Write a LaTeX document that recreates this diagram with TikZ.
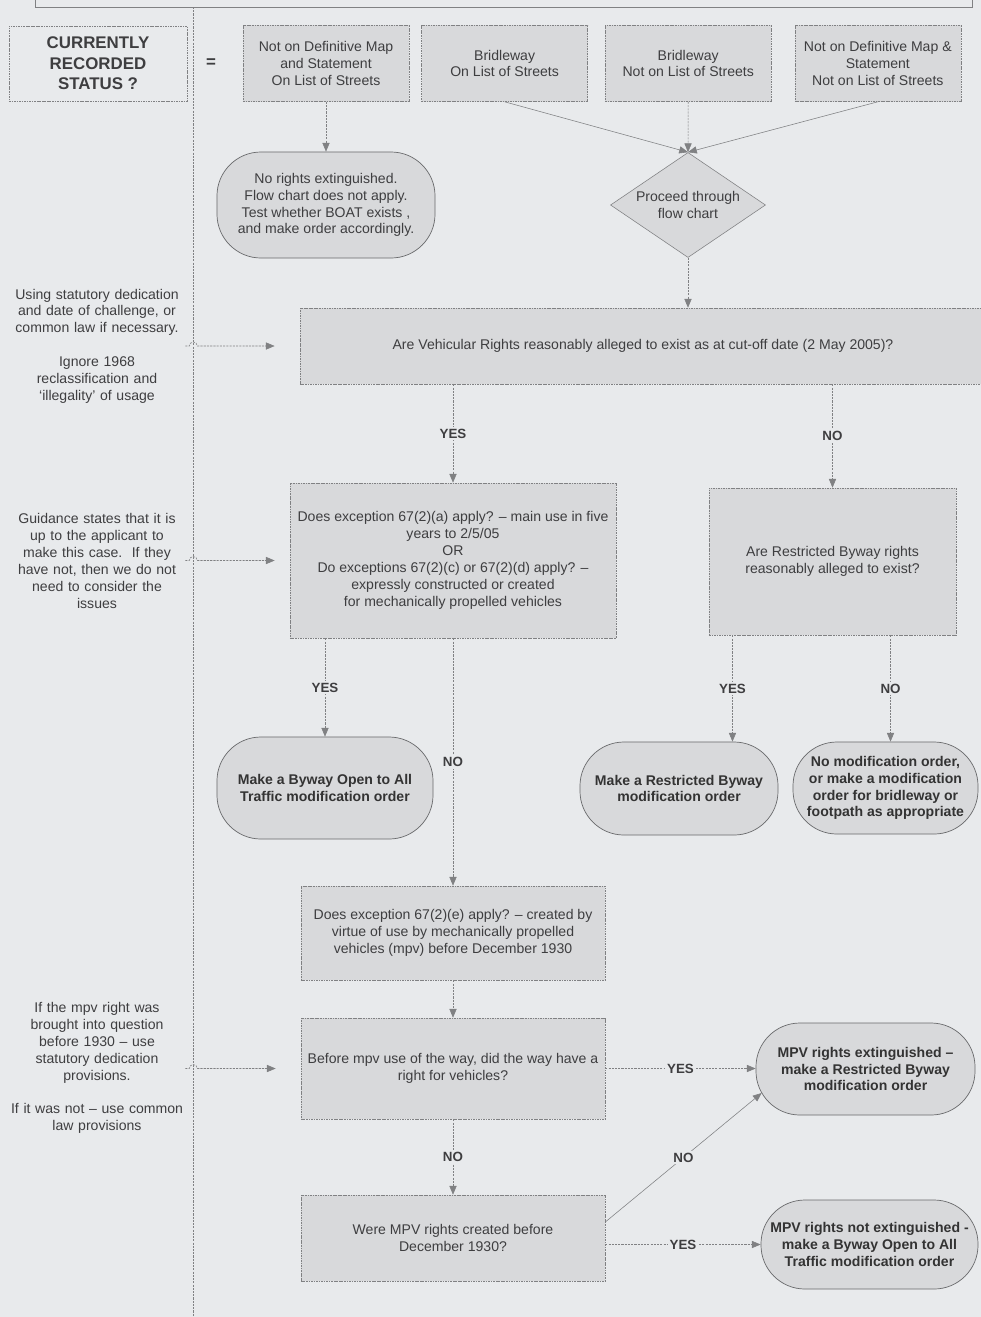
\documentclass[tikz,border=0pt]{standalone}
\usepackage{fontspec}
\setmainfont{Liberation Sans}
\usetikzlibrary{arrows.meta,positioning,shapes.geometric}
\definecolor{pagegray}{RGB}{232,234,236}
\definecolor{boxgray}{RGB}{216,217,219}
\definecolor{linegray}{RGB}{128,129,131}
\definecolor{termline}{RGB}{105,106,108}
\definecolor{textgray}{RGB}{62,62,64}

\tikzset{
  qbox/.style={rectangle, draw=linegray, fill=boxgray, dash pattern=on 1.2pt off 0.6pt, line width=0.4pt, align=center},
  topbox/.style={qbox, minimum width=4.15cm, minimum height=1.9cm},
  statbox/.style={rectangle, draw=linegray, dash pattern=on 1.2pt off 0.6pt, line width=0.4pt, align=center, minimum width=4.45cm, minimum height=1.875cm, font=\fontsize{12}{14.5}\selectfont\bfseries},
  endbox/.style={rectangle, rounded corners=1.1cm, draw=termline, fill=boxgray, line width=0.5pt, align=center},
  orderbox/.style={endbox, font=\fontsize{10}{12}\selectfont\bfseries, text=black!80},
  askbox/.style={diamond, aspect=1.5, inner sep=0pt, draw=linegray, fill=boxgray, line width=0.4pt, align=center, minimum width=3.875cm, minimum height=2.625cm},
  note/.style={text width=4.4cm, align=center, inner sep=0pt},
  flow/.style={draw=linegray, line width=0.4pt, dash pattern=on 1.5pt off 0.8pt, -{Triangle[length=2.2mm,width=1.8mm]}},
  flowline/.style={draw=linegray, line width=0.4pt, -{Triangle[length=2.2mm,width=1.8mm]}},
  lbl/.style={fill=pagegray, inner sep=1.5pt, font=\fontsize{9.5}{11}\selectfont\bfseries}
}

\begin{document}
\begin{tikzpicture}[x=0.025cm, y=-0.025cm, font=\fontsize{10}{12}\selectfont, text=textgray]
\useasboundingbox (0,0) rectangle (981,1317);
\fill[pagegray] (0,0) rectangle (981,1317);
\draw[linegray, line width=0.4pt] (35,0) -- (35,7) -- (972,7) -- (972,0);
\draw[linegray, line width=0.4pt, dash pattern=on 1.5pt off 0.8pt] (193,7) -- (193,1317);

\node[statbox] (status) at (98,63.5) {CURRENTLY\\RECORDED\\STATUS ?};
\node[font=\fontsize{12}{14}\selectfont\bfseries] (eq) at (211,63) {=};
\node[topbox] (s1) at (326,63.5) {Not on Definitive Map\\and Statement\\On List of Streets};
\node[topbox, right=0.3cm of s1] (s2) {Bridleway\\On List of Streets};
\node[topbox, right=0.425cm of s2] (s3) {Bridleway\\Not on List of Streets};
\node[topbox, right=0.575cm of s3] (s4) {Not on Definitive Map \&\\Statement\\Not on List of Streets};

\node[endbox, minimum width=5.45cm, minimum height=2.65cm] (none) at (326,205) {No rights extinguished.\\Flow chart does not apply.\\Test whether BOAT exists ,\\and make order accordingly.};
\node[askbox] (proceed) at (688,205) {Proceed through\\flow chart};

\node[qbox, minimum width=17.15cm, minimum height=1.9cm] (vr) at (643,346) {Are Vehicular Rights reasonably alleged to exist as at cut-off date (2 May 2005)?};
\node[qbox, minimum width=8.15cm, minimum height=3.875cm] (ex1) at (453,560.5) {Does exception 67(2)(a) apply? – main use in five\\years to 2/5/05\\OR\\Do exceptions 67(2)(c) or 67(2)(d) apply? –\\expressly constructed or created\\for mechanically propelled vehicles};
\node[qbox, minimum width=6.175cm, minimum height=3.675cm] (rb) at (832.5,561.5) {Are Restricted Byway rights\\reasonably alleged to exist?};

\node[orderbox, minimum width=5.4cm, minimum height=2.55cm] (boat) at (325,788) {Make a Byway Open to All\\Traffic modification order};
\node[orderbox, minimum width=4.95cm, minimum height=2.325cm] (rbo) at (679,788.5) {Make a Restricted Byway\\modification order};
\node[orderbox, minimum width=4.625cm, minimum height=2.3cm] (nmo) at (885.5,788) {No modification order,\\or make a modification\\order for bridleway or\\footpath as appropriate};

\node[qbox, minimum width=7.6cm, minimum height=2.35cm] (ex2) at (453,933) {Does exception 67(2)(e) apply? – created by\\virtue of use by mechanically propelled\\vehicles (mpv) before December 1930};
\node[qbox, minimum width=7.6cm, minimum height=2.525cm] (bv) at (453,1068.5) {Before mpv use of the way, did the way have a\\right for vehicles?};
\node[qbox, minimum width=7.6cm, minimum height=2.15cm] (mpv) at (453,1238) {Were MPV rights created before\\December 1930?};
\node[orderbox, minimum width=5.475cm, minimum height=2.3cm] (ext) at (865.5,1069) {MPV rights extinguished –\\make a Restricted Byway\\modification order};
\node[orderbox, minimum width=5.425cm, minimum height=2.225cm] (notext) at (869.5,1244.5) {MPV rights not extinguished -\\make a Byway Open to All\\Traffic modification order};

\node[note] (n1) at (97,346) {Using statutory dedication\\and date of challenge, or\\common law if necessary.\\[12pt]Ignore 1968\\reclassification and\\‘illegality’ of usage};
\node[note] (n2) at (97,561) {Guidance states that it is\\up to the applicant to\\make this case.\ \ If they\\have not, then we do not\\need to consider the\\issues};
\node[note] (n3) at (97,1068) {If the mpv right was\\brought into question\\before 1930 – use\\statutory dedication\\provisions.\\[12pt]If it was not – use common\\law provisions};

\draw[flow] (n1.east |- vr.west) -- ++(0.1cm,0) arc[start angle=180, end angle=0, radius=0.1cm] -- ([xshift=-0.625cm]vr.west);
\draw[flow] (n2.east |- ex1.west) -- ++(0.1cm,0) arc[start angle=180, end angle=0, radius=0.1cm] -- ([xshift=-0.375cm]ex1.west);
\draw[flow] (n3.east |- bv.west) -- ++(0.1cm,0) arc[start angle=180, end angle=0, radius=0.1cm] -- ([xshift=-0.625cm]bv.west);

\draw[flow] (s1) -- (none);
\draw[flowline] (s2.south) -- (proceed.north);
\draw[flow] (s3.south) -- (proceed.north);
\draw[flowline] (s4.south) -- (proceed.north);
\draw[flow] (proceed.south) -- (proceed.south |- vr.north);

\draw[flow] (vr.south -| ex1.north) -- (ex1.north) node[lbl, midway] {YES};
\draw[flow] (vr.south -| rb.north) -- (rb.north) node[lbl, midway] {NO};
\draw[flow] (ex1.south -| boat.north) -- (boat.north) node[lbl, midway] {YES};
\draw[flow] (ex1.south) -- (ex2.north) node[lbl, midway] {NO};

\coordinate (rbyes) at ([xshift=-2.5cm]rb.south);
\coordinate (rbno) at ([xshift=1.45cm]rb.south);
\draw[flow] (rbyes) -- (rbyes |- rbo.north) node[lbl, midway] {YES};
\draw[flow] (rbno) -- (rbno |- nmo.north) node[lbl, midway] {NO};

\draw[flow] (ex2) -- (bv);
\draw[flow] (bv) -- (mpv) node[lbl, midway] {NO};
\draw[flow] (bv.east) -- (bv.east -| ext.west) node[lbl, midway] {YES};
\draw[flowline] ([yshift=0.4cm]mpv.east) -- ([xshift=0.15cm, yshift=-0.6cm]ext.west) node[lbl, midway] {NO};
\draw[flow] (mpv.east |- notext.west) -- (notext.west) node[lbl, midway] {YES};
\end{tikzpicture}
\end{document}
